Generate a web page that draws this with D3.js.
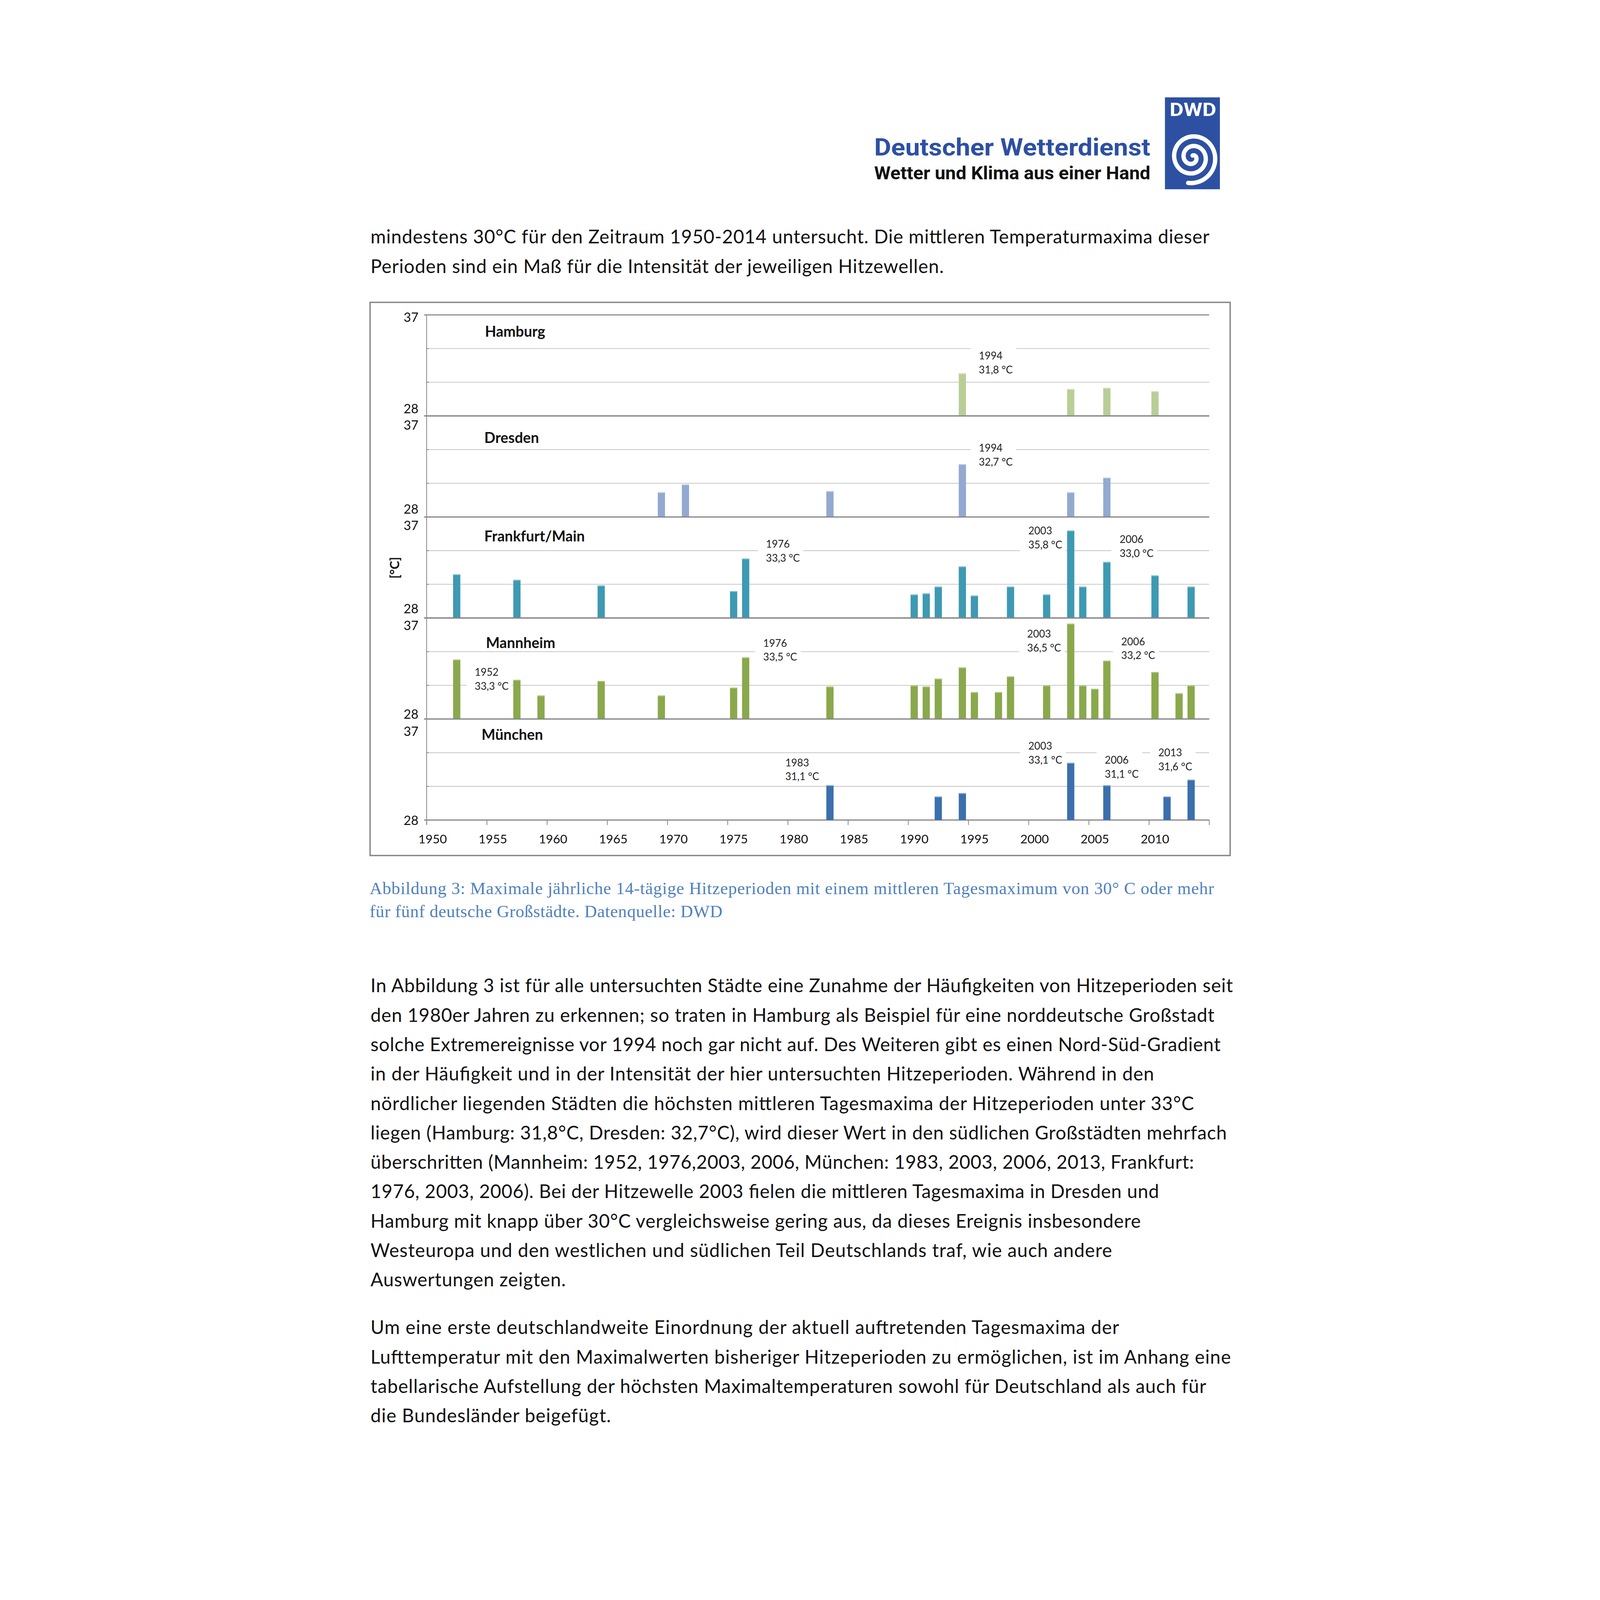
<!DOCTYPE html>
<html><head><meta charset="utf-8">
<script src="https://cdnjs.cloudflare.com/ajax/libs/d3/7.8.5/d3.min.js"></script>
<style>html,body{margin:0;padding:0;background:#fff;overflow:hidden;width:100%;height:100%}#c{width:100vw;height:100vh}svg{display:block;width:100vw;height:100vh}</style>
</head><body><div id="c"></div>
<script>
// ---------------- DATA ----------------
const cities = ["Hamburg", "Dresden", "Frankfurt/Main", "Mannheim", "München"];
const firstYear = 1950, lastYear = 2014;
const tickYears = [1950,1955,1960,1965,1970,1975,1980,1985,1990,1995,2000,2005,2010];
const yTicks = [28, 31, 34, 37];
const yLabelTicks = [28, 37];
const unitLabel = "[°C]";

const hamburgYears  = [1994, 2003, 2006, 2010];
const hamburgValues = [31.8, 30.4, 30.5, 30.2];
const dresdenYears  = [1969, 1971, 1983, 1994, 2003, 2006];
const dresdenValues = [30.2, 30.9, 30.3, 32.7, 30.2, 31.5];
const frankfurtYears  = [1952, 1957, 1964, 1975, 1976, 1990, 1991, 1992, 1994, 1995, 1998, 2001, 2003, 2004, 2006, 2010, 2013];
const frankfurtValues = [31.9, 31.4, 30.9, 30.4, 33.3, 30.1, 30.2, 30.8, 32.6, 30.0, 30.8, 30.1, 35.8, 30.8, 33.0, 31.8, 30.8];
const mannheimYears  = [1952, 1957, 1959, 1964, 1969, 1975, 1976, 1983, 1990, 1991, 1992, 1994, 1995, 1997, 1998, 2001, 2003, 2004, 2005, 2006, 2010, 2012, 2013];
const mannheimValues = [33.3, 31.5, 30.1, 31.4, 30.1, 30.8, 33.5, 30.9, 31.0, 30.9, 31.6, 32.6, 30.4, 30.4, 31.8, 31.0, 36.5, 31.0, 30.7, 33.2, 32.2, 30.3, 31.0];
const muenchenYears  = [1983, 1992, 1994, 2003, 2006, 2011, 2013];
const muenchenValues = [31.1, 30.1, 30.4, 33.1, 31.1, 30.1, 31.6];

const hamburgLabelYears   = [1994];
const dresdenLabelYears   = [1994];
const frankfurtLabelYears = [1976, 2003, 2006];
const mannheimLabelYears  = [1952, 1976, 2003, 2006];
const muenchenLabelYears  = [1983, 2003, 2006, 2013];

const logoName = "Deutscher Wetterdienst";
const logoSlogan = "Wetter und Klima aus einer Hand";
const logoMark = "DWD";

const introLines = [
  "mindestens 30°C für den Zeitraum 1950-2014 untersucht. Die mittleren Temperaturmaxima dieser",
  "Perioden sind ein Maß für die Intensität der jeweiligen Hitzewellen."
];
const captionLines = [
  "Abbildung 3: Maximale jährliche 14-tägige Hitzeperioden mit einem mittleren Tagesmaximum von 30° C oder mehr",
  "für fünf deutsche Großstädte. Datenquelle: DWD"
];
const para2Lines = [
  "In Abbildung 3 ist für alle untersuchten Städte eine Zunahme der Häufigkeiten von Hitzeperioden seit",
  "den 1980er Jahren zu erkennen; so traten in Hamburg als Beispiel für eine norddeutsche Großstadt",
  "solche Extremereignisse vor 1994 noch gar nicht auf. Des Weiteren gibt es einen Nord-Süd-Gradient",
  "in der Häufigkeit und in der Intensität der hier untersuchten Hitzeperioden. Während in den",
  "nördlicher liegenden Städten die höchsten mittleren Tagesmaxima der Hitzeperioden unter 33°C",
  "liegen (Hamburg: 31,8°C, Dresden: 32,7°C), wird dieser Wert in den südlichen Großstädten mehrfach",
  "überschritten (Mannheim: 1952, 1976,2003, 2006, München: 1983, 2003, 2006, 2013, Frankfurt:",
  "1976, 2003, 2006). Bei der Hitzewelle 2003 fielen die mittleren Tagesmaxima in Dresden und",
  "Hamburg mit knapp über 30°C vergleichsweise gering aus, da dieses Ereignis insbesondere",
  "Westeuropa und den westlichen und südlichen Teil Deutschlands traf, wie auch andere",
  "Auswertungen zeigten."
];
const para3Lines = [
  "Um eine erste deutschlandweite Einordnung der aktuell auftretenden Tagesmaxima der",
  "Lufttemperatur mit den Maximalwerten bisheriger Hitzeperioden zu ermöglichen, ist im Anhang eine",
  "tabellarische Aufstellung der höchsten Maximaltemperaturen sowohl für Deutschland als auch für",
  "die Bundesländer beigefügt."
];

// ---------------- LAYOUT / STYLE ----------------
const W = 4959, H = 7017;
const FONT = "Lato, 'Open Sans', sans-serif";
const colors = ["#b8ce96", "#93a9d0", "#3e99b2", "#8aa84c", "#3b6fad"];
const capColors = ["#d3e2bd", "#bccbe4", "#8cc6d6", "#b7cd8a", "#86a7d1"];
const plotLeft = 842, plotRight = 4274;
const panelTop0 = 1381, panelPitch = 443.1, panelH = 443;
const titleLayout = [{x:1098,dy:96},{x:1095,dy:119},{x:1095,dy:108},{x:1102,dy:132},{x:1083,dy:92}];
const label37dy = [31, 61, 58, 53, 74];
const label28dy = [-12, -15, -20, -1, 22];
const annLayout = [
  [{dx:72, dy:0}],
  [{dx:72, dy:6}],
  [{dx:89, dy:14}, {dx:-186, dy:79}, {dx:56, dy:-21}],
  [{dx:79, dy:133}, {dx:77, dy:15}, {dx:-191, dy:122}, {dx:63, dy:-7}],
  [{dx:-196, dy:-22}, {dx:-186, dy:3}, {dx:-9, dy:-33}, {dx:-144, dy:-41}]
];

const svg = d3.select("#c").append("svg")
  .attr("viewBox", `0 0 ${W} ${H}`).attr("preserveAspectRatio", "xMidYMin meet");
svg.append("rect").attr("width", W).attr("height", H).attr("fill", "#fff");

// ---------------- HEADER LOGO ----------------
const logo = svg.append("g");
logo.append("rect").attr("x", 4080).attr("y", 427).attr("width", 241).attr("height", 403).attr("fill", "#2d50a2");
logo.append("text").attr("x", 4203).attr("y", 508).attr("text-anchor", "middle")
  .attr("font-family", "Roboto, sans-serif").attr("font-weight", 700).attr("font-size", 82)
  .attr("textLength", 205).attr("lengthAdjust", "spacingAndGlyphs").attr("fill", "#fff").text(logoMark);
// spiral (decorative)
const spiralPts = [];
for (let t = 0; t <= 5 * Math.PI; t += 0.05) {
  const r = 8 + t * 6.6, a = t - 1.4;
  spiralPts.push([4200 + r * Math.cos(a), 690 + r * Math.sin(a) * 1.02]);
}
logo.append("path").attr("d", d3.line().curve(d3.curveBasis)(spiralPts))
  .attr("fill", "none").attr("stroke", "#fff").attr("stroke-width", 19).attr("stroke-linecap", "round");
logo.append("text").attr("x", 2805).attr("y", 682)
  .attr("font-family", "Roboto, sans-serif").attr("font-weight", 700).attr("font-size", 104)
  .attr("textLength", 1211).attr("lengthAdjust", "spacingAndGlyphs").attr("fill", "#2d50a2").text(logoName);
logo.append("text").attr("x", 2805).attr("y", 787)
  .attr("font-family", "Roboto, sans-serif").attr("font-weight", 700).attr("font-size", 78)
  .attr("textLength", 1211).attr("lengthAdjust", "spacingAndGlyphs").attr("fill", "#111").text(logoSlogan);

// ---------------- BODY TEXT ----------------
function textBlock(lines, left, base0, step, rights, opts) {
  const g = svg.append("g");
  lines.forEach((t, i) => {
    g.append("text").attr("x", left).attr("y", base0 + i * step)
      .attr("font-family", opts.family).attr("font-size", opts.size).attr("fill", opts.fill)
      .attr("textLength", rights[i] - left).attr("lengthAdjust", "spacing")
      .text(t);
  });
}
const bodyOpts = {family: FONT, size: 82, fill: "#111"};
textBlock(introLines, 596, 1068, 130, [4275, 3110], bodyOpts);
textBlock(para2Lines, 596, 4352, 129,
  [4378, 4297, 4324, 4032, 4207, 4351, 4207, 4054, 3974, 3848, 1452], bodyOpts);
textBlock(para3Lines, 596, 5851, 129, [3879, 4369, 4261, 1650], bodyOpts);
textBlock(captionLines, 592, 3922, 101, [4295, 2139],
  {family: "'Liberation Serif', 'DejaVu Serif', serif", size: 76, fill: "#4f81bd"});

// ---------------- CHART ----------------
const chart = svg.append("g");
chart.append("rect").attr("x", 594).attr("y", 1326).attr("width", 3772).attr("height", 2426)
  .attr("fill", "#fff").attr("stroke", "#878787").attr("stroke-width", 6);

const allYears = d3.range(firstYear, lastYear + 1);
const x = d3.scaleBand().domain(allYears).range([plotLeft, plotRight]).paddingInner(0.4).paddingOuter(0.2);
const xEdge = d3.scaleLinear().domain([firstYear, lastYear + 1]).range([plotLeft, plotRight]);
const bw = x.bandwidth();

const series = [
  {years: hamburgYears, values: hamburgValues, labels: hamburgLabelYears},
  {years: dresdenYears, values: dresdenValues, labels: dresdenLabelYears},
  {years: frankfurtYears, values: frankfurtValues, labels: frankfurtLabelYears},
  {years: mannheimYears, values: mannheimValues, labels: mannheimLabelYears},
  {years: muenchenYears, values: muenchenValues, labels: muenchenLabelYears}
];
const fmt = v => d3.format(".1f")(v).replace(".", ",") + " °C";

let lastBottom = 0;
series.forEach((s, i) => {
  const top = panelTop0 + i * panelPitch, bottom = top + panelH;
  lastBottom = bottom;
  const y = d3.scaleLinear().domain([28, 37]).range([bottom, top]);
  const g = chart.append("g");
  const data = s.years.map((yr, k) => ({year: yr, value: s.values[k]}));

  yTicks.forEach(t => {
    const major = (t === 28 || t === 37);
    g.append("line").attr("x1", major ? 831 : plotLeft).attr("x2", plotRight)
      .attr("y1", y(t)).attr("y2", y(t))
      .attr("stroke", major ? "#858585" : "#c8c8c8").attr("stroke-width", major ? 5 : 3.5);
    if (!major) g.append("line").attr("x1", plotLeft).attr("x2", plotLeft + 10)
      .attr("y1", y(t)).attr("y2", y(t)).attr("stroke", "#8a8a8a").attr("stroke-width", 3.5);
  });

  const ann = s.labels.map((yr, k) => {
    const v = s.values[s.years.indexOf(yr)];
    const lay = annLayout[i][k];
    const cx = x(yr) + bw / 2;
    const tx = cx + lay.dx, b2 = y(v) + lay.dy, b1 = b2 - 61;
    return {yr, v, tx, b1, b2};
  });
  g.selectAll("rect.bg").data(ann).join("rect").attr("class", "bg")
    .attr("x", d => d.tx - 36).attr("width", 200)
    .attr("y", d => d.b1 - 52).attr("height", d => d.b2 - d.b1 + 70).attr("fill", "#fff");

  g.selectAll("rect.bar").data(data).join("rect").attr("class", "bar")
    .attr("x", d => x(d.year)).attr("width", bw)
    .attr("y", d => y(d.value)).attr("height", d => y(28) - y(d.value))
    .attr("fill", colors[i]);
  g.selectAll("rect.cap").data(data).join("rect").attr("class", "cap")
    .attr("x", d => x(d.year)).attr("width", bw)
    .attr("y", d => y(d.value)).attr("height", 4)
    .attr("fill", capColors[i]);

  ann.forEach(d => {
    g.append("text").attr("x", d.tx).attr("y", d.b1).attr("font-family", FONT).attr("font-size", 45)
      .attr("fill", "#222").text(d.yr);
    g.append("text").attr("x", d.tx).attr("y", d.b2).attr("font-family", FONT).attr("font-size", 45)
      .attr("fill", "#222").text(fmt(d.v));
  });

  g.append("text").attr("x", titleLayout[i].x).attr("y", top + titleLayout[i].dy)
    .attr("font-family", FONT).attr("font-weight", 700).attr("font-size", 64).attr("fill", "#111")
    .text(cities[i]);

  yLabelTicks.forEach(t => {
    const dy = t === 37 ? label37dy[i] : label28dy[i];
    g.append("text").attr("x", 806).attr("y", y(t) + dy).attr("text-anchor", "end")
      .attr("font-family", FONT).attr("font-size", 56).attr("fill", "#111").text(t);
  });
});

chart.append("line").attr("x1", plotLeft).attr("x2", plotLeft)
  .attr("y1", panelTop0).attr("y2", lastBottom + 20).attr("stroke", "#8a8a8a").attr("stroke-width", 3.5);

const xTickG = chart.append("g").attr("transform", `translate(0,${lastBottom})`)
  .call(d3.axisBottom(xEdge).tickValues(tickYears.concat([lastYear + 1])).tickFormat("").tickSize(22).tickSizeOuter(0));
xTickG.select(".domain").remove();
xTickG.selectAll("line").attr("stroke", "#8a8a8a").attr("stroke-width", 3.5);

const xLabG = chart.append("g").attr("transform", `translate(0,${lastBottom})`)
  .call(d3.axisBottom(x).tickValues(tickYears).tickSize(0).tickPadding(0));
xLabG.select(".domain").remove();
xLabG.selectAll("text").attr("font-family", FONT).attr("font-size", 54).attr("fill", "#111")
  .attr("dy", null).attr("y", 3699 - lastBottom);

chart.append("text").attr("transform", "translate(721,2490) rotate(-90)").attr("text-anchor", "middle")
  .attr("font-family", FONT).attr("font-weight", 700).attr("font-size", 56).attr("fill", "#111").text(unitLabel);
</script></body></html>
